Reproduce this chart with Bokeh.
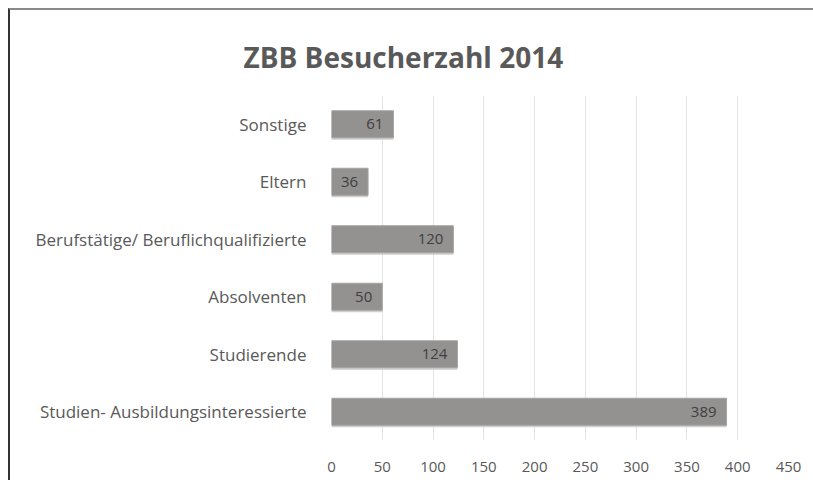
from bokeh.plotting import figure
from bokeh.models import ColumnDataSource, LabelSet, Title, FixedTicker
from bokeh.core.properties import value
from bokeh.transform import dodge
from bokeh.embed import file_html
from bokeh.resources import INLINE

title_text = "ZBB Besucherzahl 2014"
categories = ["Studien- Ausbildungsinteressierte", "Studierende", "Absolventen",
              "Berufstätige/ Beruflichqualifizierte", "Eltern", "Sonstige"]
values = [389, 124, 50, 120, 36, 61]
x_ticks = [0, 50, 100, 150, 200, 250, 300, 350, 400, 450]

src = ColumnDataSource(dict(cat=categories, val=values, lbl=[str(v) for v in values]))

FONT = "Open Sans"

p = figure(width=805, height=472, y_range=categories, x_range=(0, 450),
           output_backend="svg", toolbar_location=None,
           min_border_left=321, min_border_right=27, min_border_bottom=42, min_border_top=85)
p.y_range.range_padding = 0
p.styles = {"border-top": "2px solid #8a8a8a", "border-left": "2px solid #333333",
            "box-sizing": "border-box", "margin": "8px 0 0 8px"}

t = Title(text=title_text, align="left", text_font=FONT,
          text_font_size="28px", text_font_style="bold", text_color="#595959",
          standoff=40, offset=-88)
p.add_layout(t, "above")

# shadow
p.hbar(y=dodge("cat", -0.035, range=p.y_range), left=0, right="val", height=0.47,
       source=src, fill_color="#c4c4c4", line_color=None, fill_alpha=0.8)
p.hbar(y="cat", left=0, right="val", height=0.47, source=src,
       fill_color="#949191", line_color="#a6a3a3", line_width=1)

labels = LabelSet(x="val", y="cat", text="lbl", source=src, x_offset=-10,
                  text_align="right", text_baseline="middle",
                  text_font=value(FONT), text_font_size="15px", text_color="#404040")
p.add_layout(labels)

p.xaxis.ticker = FixedTicker(ticks=x_ticks)
for ax in (p.xaxis, p.yaxis):
    ax.axis_line_color = None
    ax.major_tick_line_color = None
    ax.minor_tick_line_color = None
    ax.major_label_text_font = FONT
    ax.major_label_text_color = "#595959"
p.xaxis.major_label_text_font_size = "15px"
p.yaxis.major_label_text_font_size = "17px"
p.xaxis.major_label_standoff = 15
p.yaxis.major_label_standoff = 19

p.ygrid.grid_line_color = None
p.xgrid.grid_line_color = "#e3e3e3"
p.outline_line_color = None

open("out.html", "w").write(file_html(p, INLINE))
